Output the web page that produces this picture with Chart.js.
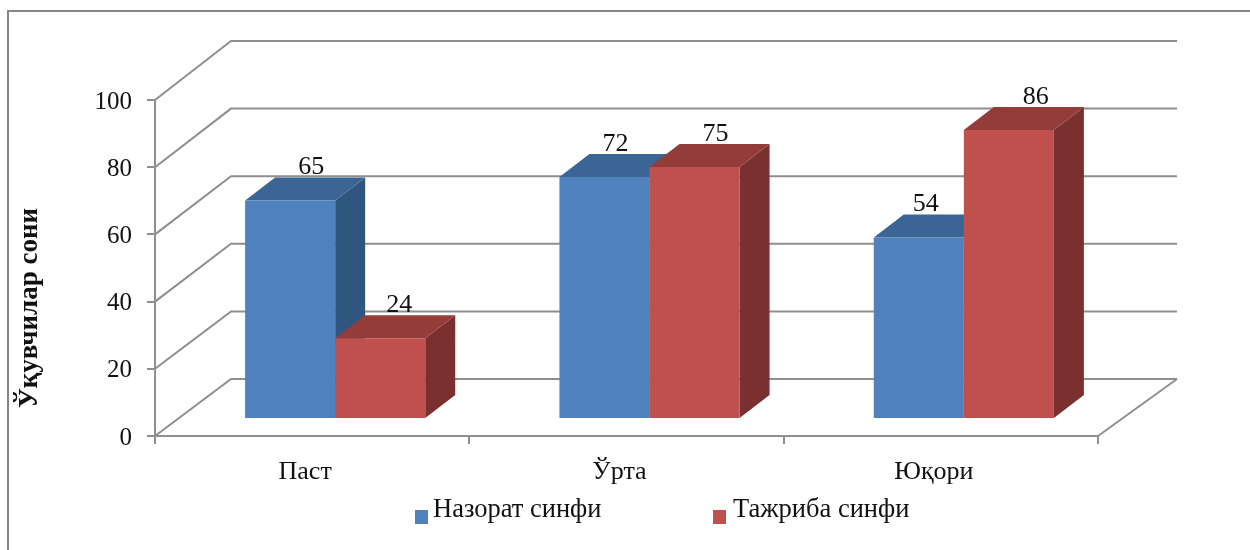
<!DOCTYPE html>
<html>
<head>
<meta charset="utf-8">
<style>
  html, body { margin: 0; padding: 0; background: #fff; overflow: hidden; }
  #wrap { position: relative; width: 1250px; height: 550px; overflow: hidden; }
  #frame { position: absolute; left: 7px; top: 10px; width: 1300px; height: 600px; border: 2px solid #858585; }
  canvas { position: absolute; left: 0; top: 0; }
</style>
<script src="https://cdn.jsdelivr.net/npm/chart.js@4"></script>
</head>
<body>
<div id="wrap">
  <div id="frame"></div>
  <canvas id="chart" width="1250" height="550"></canvas>
</div>
<script>
// ===== data =====
const categories = ['Паст', 'Ўрта', 'Юқори'];
const controlValues = [65, 72, 54];
const experimentValues = [24, 75, 86];
const controlLabel = 'Назорат синфи';
const experimentLabel = 'Тажриба синфи';
const yTitle = 'Ўқувчилар сони';

// ===== look =====
const FONT = "'Liberation Serif', 'Times New Roman', serif";
const TEXT = '#111';
const LINE = '#8f8f8f';
const BLUE = { front: '#4f81bd', top: '#3b6595', side: '#30557f' };
const RED = { front: '#c0504d', top: '#943c39', side: '#7b3030' };

// Plot box and the fake 3D projection
const PLOT = { left: 155, right: 1098, top: 100, bottom: 436 };
const WALL = { dx: 76, dy: -57, tilt: -0.02, right: 1177 };
const BAR_SHIFT = { x: 23, y: -17 };
const BAR_DEPTH = { x: 30, y: -23 };
// value label offset from the front top edge of each bar, per dataset/category
const LABEL_DX = [[21, 11, 7], [19, 21, 27]];
const LABEL_DY = -33;
// legend swatch and text spots
const LEGEND_ITEMS = [
  { x: 415, textX: 433, label: controlLabel, color: BLUE.front },
  { x: 713, textX: 733, label: experimentLabel, color: RED.front }
];
const LEGEND_Y = 517;

const fake3d = {
  id: 'fake3d',
  beforeDatasetsDraw(chart) {
    const { ctx, scales: { y } } = chart;
    const colors = [BLUE, RED];

    // walls and floor
    ctx.save();
    ctx.strokeStyle = LINE;
    ctx.lineWidth = 2;
    y.ticks.forEach(t => {
      const py = y.getPixelForValue(t.value);
      const backY = py + WALL.dy + WALL.tilt * t.value;
      ctx.beginPath();
      ctx.moveTo(PLOT.left, py);
      ctx.lineTo(PLOT.left + WALL.dx, backY);
      ctx.lineTo(WALL.right, backY);
      ctx.stroke();
    });
    const py0 = y.getPixelForValue(0);
    ctx.beginPath();
    ctx.moveTo(PLOT.right, py0);
    ctx.lineTo(WALL.right, py0 + WALL.dy);
    ctx.stroke();
    ctx.restore();

    // side and top faces behind the library's bars
    chart.data.datasets.forEach((ds, i) => {
      chart.getDatasetMeta(i).data.forEach(bar => {
        const l = bar.x - bar.width / 2 + BAR_SHIFT.x;
        const r = bar.x + bar.width / 2 + BAR_SHIFT.x;
        const t = bar.y + BAR_SHIFT.y;
        const b = bar.base + BAR_SHIFT.y;
        ctx.fillStyle = colors[i].side;
        ctx.beginPath();
        ctx.moveTo(r, t);
        ctx.lineTo(r + BAR_DEPTH.x, t + BAR_DEPTH.y);
        ctx.lineTo(r + BAR_DEPTH.x, b + BAR_DEPTH.y);
        ctx.lineTo(r, b);
        ctx.closePath();
        ctx.fill();
        ctx.fillStyle = colors[i].top;
        ctx.beginPath();
        ctx.moveTo(l, t);
        ctx.lineTo(l + BAR_DEPTH.x, t + BAR_DEPTH.y);
        ctx.lineTo(r + BAR_DEPTH.x, t + BAR_DEPTH.y);
        ctx.lineTo(r, t);
        ctx.closePath();
        ctx.fill();
      });
    });

    // front faces are drawn by Chart.js, pushed into the floor
    ctx.save();
    ctx.translate(BAR_SHIFT.x, BAR_SHIFT.y);
  },
  afterDatasetsDraw(chart) {
    const { ctx } = chart;
    ctx.restore();

    ctx.save();
    ctx.fillStyle = TEXT;
    ctx.font = '26px ' + FONT;
    ctx.textAlign = 'center';
    ctx.textBaseline = 'middle';
    chart.data.datasets.forEach((ds, i) => {
      chart.getDatasetMeta(i).data.forEach((bar, j) => {
        const x = bar.x + BAR_SHIFT.x + LABEL_DX[i][j];
        const yy = bar.y + BAR_SHIFT.y + LABEL_DY;
        ctx.fillText(String(ds.data[j]), x, yy);
      });
    });
    ctx.restore();
  },
  afterDraw(chart) {
    const { ctx } = chart;

    // legend, off centre in the original
    ctx.save();
    ctx.font = '26.5px ' + FONT;
    ctx.textAlign = 'left';
    ctx.textBaseline = 'middle';
    LEGEND_ITEMS.forEach(item => {
      ctx.fillStyle = item.color;
      ctx.fillRect(item.x, LEGEND_Y - 7, 13, 14);
      ctx.fillStyle = TEXT;
      ctx.fillText(item.label, item.textX, LEGEND_Y - 7);
    });
    ctx.restore();

    // y axis title
    ctx.save();
    ctx.translate(37, 308);
    ctx.rotate(-Math.PI / 2);
    ctx.font = 'bold 27px ' + FONT;
    ctx.fillStyle = TEXT;
    ctx.textAlign = 'center';
    ctx.textBaseline = 'alphabetic';
    ctx.fillText(yTitle, 0, 0);
    ctx.restore();
  }
};

new Chart(document.getElementById('chart').getContext('2d'), {
  type: 'bar',
  data: {
    labels: categories,
    datasets: [
      { label: controlLabel, data: controlValues, backgroundColor: BLUE.front, barPercentage: 1, categoryPercentage: 0.573 },
      { label: experimentLabel, data: experimentValues, backgroundColor: RED.front, barPercentage: 1, categoryPercentage: 0.573 }
    ]
  },
  options: {
    responsive: false,
    animation: false,
    layout: { padding: { top: PLOT.top, right: 1250 - PLOT.right, left: 0, bottom: 0 } },
    plugins: {
      tooltip: { enabled: false },
      legend: { display: false }
    },
    scales: {
      x: {
        grid: { drawOnChartArea: false, color: LINE, tickColor: LINE, tickLength: 8, lineWidth: 2 },
        border: { color: LINE, width: 2 },
        ticks: { color: TEXT, font: { family: FONT, size: 26 }, padding: 13, labelOffset: -7, maxRotation: 0 },
        afterFit(scale) { scale.height = 550 - PLOT.bottom; }
      },
      y: {
        min: 0,
        max: 100,
        grid: { drawOnChartArea: false, color: LINE, tickColor: LINE, tickLength: 8, lineWidth: 2 },
        border: { color: LINE, width: 2 },
        ticks: { color: TEXT, font: { family: FONT, size: 25 }, stepSize: 20, padding: 15, labelOffset: 2 },
        afterFit(scale) { scale.width = PLOT.left; }
      }
    }
  },
  plugins: [fake3d]
});
</script>
</body>
</html>
